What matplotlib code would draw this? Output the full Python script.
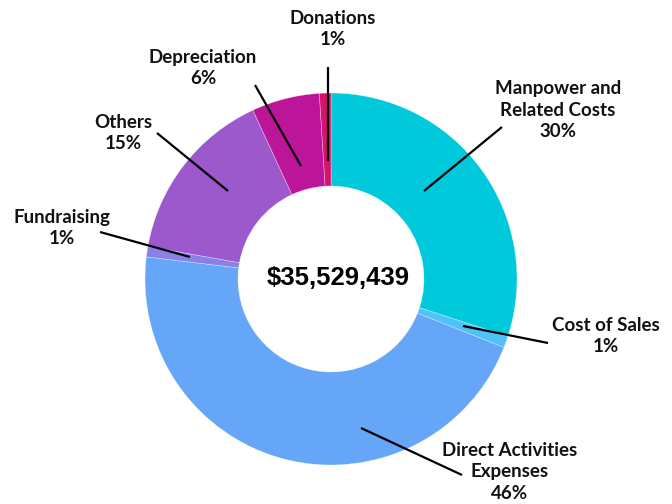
import matplotlib
matplotlib.use("Agg")
import matplotlib.pyplot as plt

categories = ["Manpower and\nRelated Costs", "Cost of Sales", "Direct Activities\nExpenses",
              "Fundraising", "Others", "Depreciation", "Donations"]
values = [30.0, 1.0, 45.9, 0.9, 15.3, 5.9, 1.0]
pct_labels = ["30%", "1%", "46%", "1%", "15%", "6%", "1%"]
colors = ["#00C9DB", "#4DC3FA", "#66A6F8", "#8A80E6", "#9B59CC", "#BD1599", "#D6126E"]
total_label = "$35,529,439"

# layout (pixel coordinates, y from top)
W, H = 672, 504
cx, cy = 331, 279
r_out, r_in = 186, 93
label_pos = [(558, 110), (606, 336), (510, 472), (62, 228), (123, 133), (203, 68), (333, 29)]
line_start = [(424, 191), (463, 326), (361, 428), (190, 257), (228, 191), (301, 166), (328, 161)]
line_end = [(502, 127), (548, 343), (462, 475), (100, 232), (157, 133), (255, 85), (328, 67)]

fig = plt.figure(figsize=(W / 100, H / 100), dpi=100)
ax = fig.add_axes([0, 0, 1, 1])
ax.pie(values, colors=colors, startangle=90, counterclock=False,
       center=(cx, H - cy), radius=r_out,
       wedgeprops=dict(width=r_out - r_in, edgecolor=(1, 1, 1, 0.5), linewidth=0.4))
ax.set_xlim(0, W)
ax.set_ylim(0, H)
ax.set_aspect("equal")
ax.axis("off")

ax.text(cx + 7, H - cy + 1, total_label, ha="center", va="center",
        fontsize=18.5, fontweight="bold", family="Liberation Sans", color="#000000")

for cat, pct, (lx, ly), (sx, sy), (ex, ey) in zip(categories, pct_labels, label_pos, line_start, line_end):
    ax.plot([sx, ex], [H - sy, H - ey], color="black", linewidth=1.6, solid_capstyle="butt")
    ax.text(lx, H - ly, cat + "\n" + pct, ha="center", va="center", fontsize=13.5,
            fontweight="bold", family="Lato", linespacing=1.35, color="#111111")

fig.savefig("out.png", dpi=100)
